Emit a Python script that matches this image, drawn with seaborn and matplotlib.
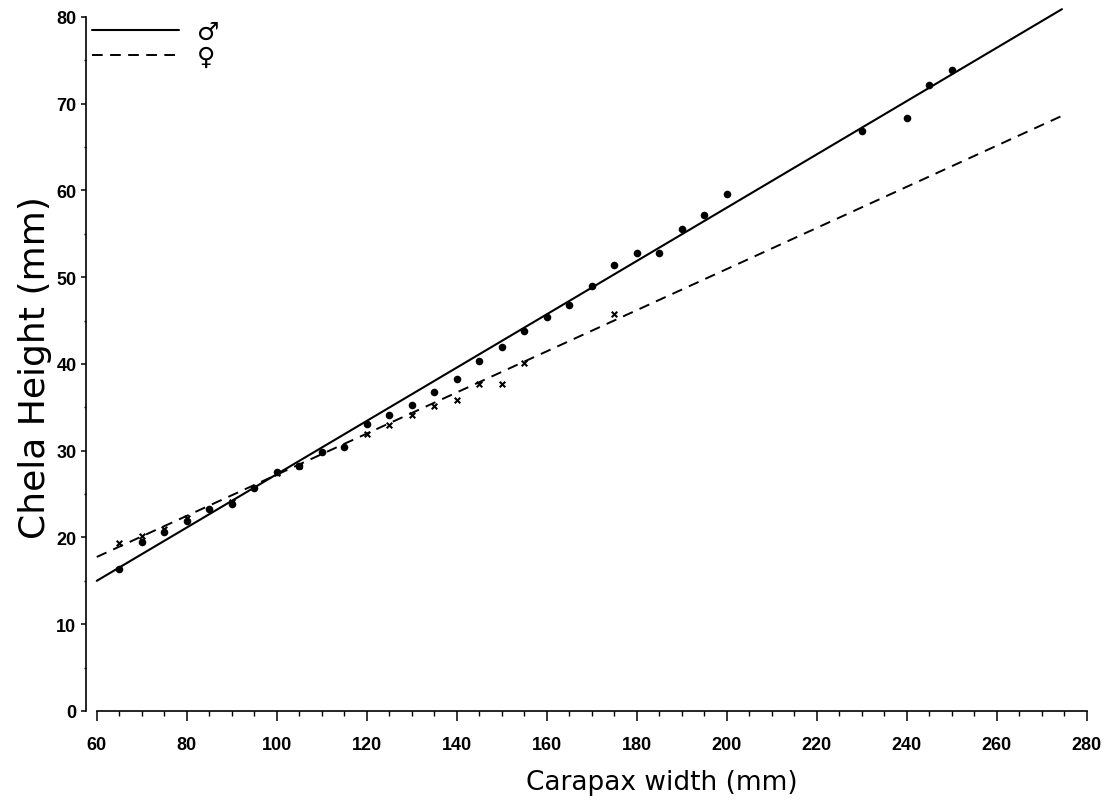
# Chela height vs carapax width, males and females with fitted lines
import pandas as pd
import seaborn as sns
import matplotlib.pyplot as plt
from matplotlib.ticker import MultipleLocator

# --- data ---
male_width = [65, 70, 75, 80, 85, 90, 95, 100, 105, 110, 115, 120, 125, 130,
              135, 140, 145, 150, 155, 160, 165, 170, 175, 180, 185, 190,
              195, 200, 230, 240, 245, 250]
male_height = [16.4, 19.5, 20.6, 21.9, 23.3, 23.9, 25.7, 27.5, 28.2, 29.8,
               30.4, 33.1, 34.1, 35.3, 36.8, 38.3, 40.3, 42.0, 43.8, 45.4,
               46.8, 49.0, 51.4, 52.8, 52.8, 55.6, 57.2, 59.6, 66.8, 68.4,
               72.1, 73.9]

female_width = [65, 70, 75, 80, 90, 100, 105, 120, 125, 130, 135, 140, 145,
                150, 155, 175]
female_height = [19.4, 20.2, 21.0, 22.2, 24.1, 27.4, 28.2, 31.9, 33.0, 34.1,
                 35.2, 35.9, 37.7, 37.7, 40.1, 45.8]

# fitted lines (end points)
fit_width = [60, 274.5]
male_fit = [15.0, 80.9]
female_fit = [17.75, 68.6]

machos = pd.DataFrame({'ancho': male_width, 'alto': male_height})
hembras = pd.DataFrame({'ancho': female_width, 'alto': female_height})
rectas = pd.DataFrame({'ancho': fit_width, 'macho': male_fit, 'hembra': female_fit})

sns.set_style("ticks")
plt.rcParams['font.family'] = ['DejaVu Sans']
plt.rcParams['text.color'] = 'black'
plt.rcParams['axes.labelcolor'] = 'black'
plt.rcParams['xtick.color'] = 'black'
plt.rcParams['ytick.color'] = 'black'
plt.rcParams['axes.edgecolor'] = 'black'

fig = plt.figure(figsize=(11.09, 8.12), dpi=100)
ax = fig.add_axes([0.0771, 0.1232, 0.9109, 0.8707])

# lines
sns.lineplot(data=rectas, x='ancho', y='macho', color='black', linewidth=1.5,
             label='\u2642', ax=ax)
sns.lineplot(data=rectas, x='ancho', y='hembra', color='black', linewidth=1.4,
             linestyle=(0, (5.5, 3.8)), label='\u2640', ax=ax)

# points
sns.scatterplot(data=machos, x='ancho', y='alto', marker='o', color='black',
                s=30, linewidth=0, legend=False, ax=ax, zorder=3)
sns.scatterplot(data=hembras, x='ancho', y='alto', marker='x', color='black',
                s=16, linewidth=1.5, legend=False, ax=ax, zorder=3)

# axes
ax.set_xlim(57.5, 282)
ax.set_ylim(0, 81.5)
ax.spines['top'].set_visible(False)
ax.spines['right'].set_visible(False)
ax.spines['left'].set_bounds(0, 80)
ax.spines['bottom'].set_bounds(60, 280)
for s in ['left', 'bottom']:
    ax.spines[s].set_linewidth(1.2)

ax.xaxis.set_major_locator(MultipleLocator(20))
ax.xaxis.set_minor_locator(MultipleLocator(5))
ax.yaxis.set_major_locator(MultipleLocator(10))
ax.yaxis.set_minor_locator(MultipleLocator(5))
ax.tick_params(axis='x', which='major', direction='out', length=7, width=1.1, pad=11)
ax.tick_params(axis='x', which='minor', direction='out', length=3.5, width=1.0)
ax.tick_params(axis='y', which='major', direction='out', length=3.5, width=1.1, pad=3)
ax.tick_params(axis='y', which='minor', direction='out', length=1.5, width=1.0)

for lab in ax.get_xticklabels() + ax.get_yticklabels():
    lab.set_family(['Liberation Sans', 'DejaVu Sans'])
    lab.set_fontsize(13)
    lab.set_fontweight('bold')

ax.set_xlabel('Carapax width (mm)', fontsize=19)
ax.set_ylabel('Chela Height (mm)', fontsize=26)
ax.xaxis.set_label_coords(0.5705, -0.082)
ax.yaxis.set_label_coords(-0.033, 0.487)

leg = ax.legend(loc='upper left', bbox_to_anchor=(0.006, 0.978), frameon=False,
                fontsize=18, handlelength=3.5, handletextpad=0.7,
                labelspacing=0.05, borderpad=0, borderaxespad=0)

plt.savefig('out.png', dpi=100)
